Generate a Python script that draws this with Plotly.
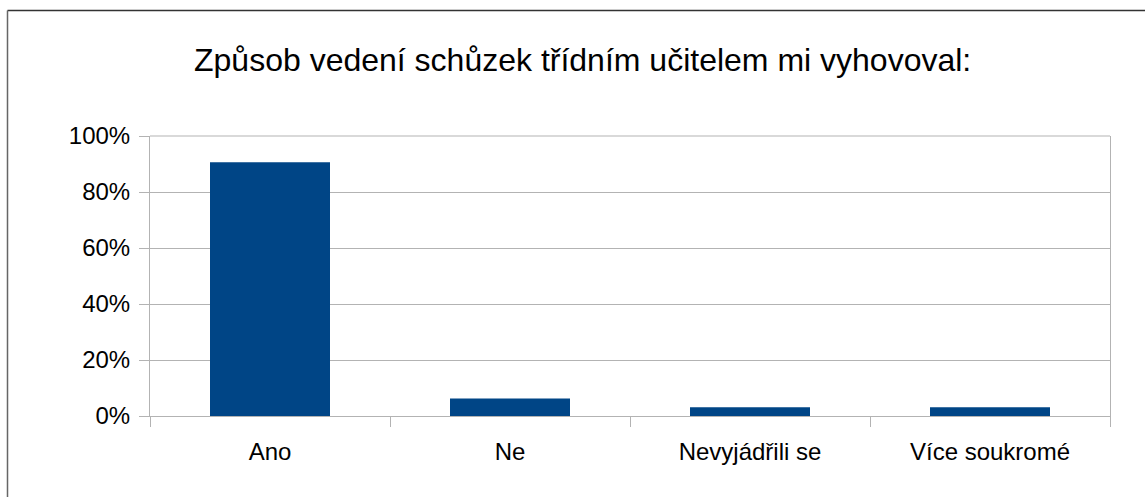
import plotly.graph_objects as go

categories = ["Ano", "Ne", "Nevyjádřili se", "Více soukromé"]
values = [90.625, 6.25, 3.125, 3.125]
y_ticks = [0, 20, 40, 60, 80, 100]
y_tick_labels = ["0%", "20%", "40%", "60%", "80%", "100%"]
title_text = "Způsob vedení schůzek třídním učitelem mi vyhovoval:"

W, H = 1145, 497
L, R, T, B = 150, 35, 136, 81
pw, ph = W - L - R, H - T - B

def px(x):
    return (x - L) / pw

def py(y):
    return (H - B - y) / ph

fig = go.Figure(go.Bar(
    x=categories, y=values, width=0.5,
    marker=dict(color="#004586", line=dict(width=0)),
))

font = "Liberation Sans, Arial, sans-serif"
fig.update_layout(
    width=W, height=H,
    margin=dict(l=L, r=R, t=T, b=B, pad=0),
    paper_bgcolor="white", plot_bgcolor="white",
    showlegend=False,
    font=dict(family=font, color="black", size=24),
    annotations=[dict(
        text=title_text, x=px(582), y=py(60), xref="paper", yref="paper",
        xanchor="center", yanchor="middle", showarrow=False,
        font=dict(family=font, size=32, color="black"),
    )],
    shapes=[
        dict(type="line", xref="paper", yref="paper",
             x0=px(7.5), x1=px(1200), y0=py(10.5), y1=py(10.5),
             line=dict(color="#333333", width=1.5)),
        dict(type="line", xref="paper", yref="paper",
             x0=px(7.5), x1=px(7.5), y0=py(10.5), y1=py(600),
             line=dict(color="#666666", width=1.5)),
    ],
)
fig.update_xaxes(
    type="category", tickson="boundaries", ticks="outside", ticklen=10,
    tickcolor="#b3b3b3", tickwidth=1, showline=True, linecolor="#b3b3b3",
    linewidth=1, showgrid=False, tickfont=dict(size=24), ticklabelstandoff=14,
)
fig.update_yaxes(
    range=[0, 100], tickvals=y_ticks, ticktext=y_tick_labels,
    ticks="outside", ticklen=10, tickcolor="#b3b3b3", tickwidth=1,
    showline=True, linecolor="#b3b3b3", linewidth=1, mirror=True,
    showgrid=True, gridcolor="#b3b3b3", gridwidth=1, zeroline=False,
    tickfont=dict(size=24), ticklabelstandoff=4,
)
fig.add_shape(type="line", xref="paper", yref="paper", x0=0, x1=1, y0=1, y1=1,
              line=dict(color="#b3b3b3", width=1), layer="below")
fig.write_html(
    "out.html",
    config={"displayModeBar": False},
    post_script="document.body.style.margin='0';document.body.style.overflow='hidden';",
)
